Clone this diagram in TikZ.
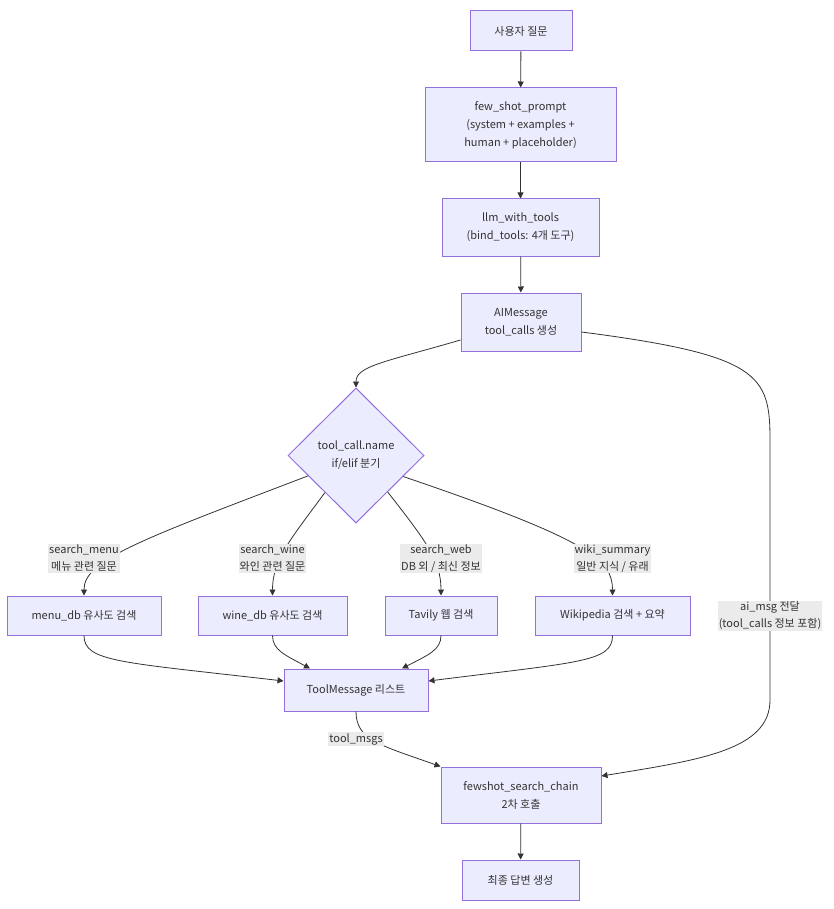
\documentclass[tikz,border=0pt]{standalone}
\usepackage{fontspec}
\setmainfont{Noto Sans CJK KR}
\usetikzlibrary{shapes.geometric,arrows.meta}
\definecolor{nfill}{HTML}{ECECFF}
\definecolor{nline}{HTML}{9370DB}
\definecolor{ink}{HTML}{333333}
\definecolor{lbg}{HTML}{EBEBEB}
\tikzset{
  box/.style={draw=nline, fill=nfill, line width=1pt, text=ink, align=center,
    font=\fontsize{11}{18}\selectfont, inner sep=0pt},
  dia/.style={box, diamond, minimum width=136pt, minimum height=135pt},
  elabel/.style={fill=lbg, text=ink, align=center, inner sep=1pt,
    font=\fontsize{11}{17}\selectfont},
  edge/.style={draw=ink, line width=0.8pt, -{Triangle[length=6pt,width=6pt]}},
}
\begin{document}
\begin{tikzpicture}[x=1pt,y=-1pt]
\useasboundingbox (0,0) rectangle (833,909);
\node[box, minimum width=102pt, minimum height=40pt] (q) at (521,31) {사용자 질문};
\node[box, minimum width=191pt, minimum height=74pt] (fsp) at (520.5,125) {few\_shot\_prompt\\(system + examples +\\human + placeholder)};
\node[box, minimum width=157pt, minimum height=57pt] (llm) at (520.5,227.5) {llm\_with\_tools\\(bind\_tools: 4개 도구)};
\node[box, minimum width=120pt, minimum height=58pt] (ai) at (521,322) {AIMessage\\tool\_calls 생성};
\node[dia] (d) at (356,455.5) {tool\_call.name\\if/elif 분기};
\node[box, minimum width=154pt, minimum height=39pt] (menu) at (84,615.5) {menu\_db 유사도 검색};
\node[box, minimum width=149pt, minimum height=39pt] (wine) at (272.5,615.5) {wine\_db 유사도 검색};
\node[box, minimum width=112pt, minimum height=39pt] (web) at (441,615.5) {Tavily 웹 검색};
\node[box, minimum width=155pt, minimum height=39pt] (wiki) at (612.5,615.5) {Wikipedia 검색 + 요약};
\node[box, minimum width=144pt, minimum height=42pt] (tm) at (356,690) {ToolMessage 리스트};
\node[box, minimum width=160pt, minimum height=56pt] (fs) at (521,795) {fewshot\_search\_chain\\2차 호출};
\node[box, minimum width=117pt, minimum height=40pt] (fin) at (520.5,880) {최종 답변 생성};

% straight chain
\draw[edge] (q) -- (fsp);
\draw[edge] (fsp) -- (llm);
\draw[edge] (llm) -- (ai);
\draw[edge] ([yshift=-18pt]ai.west) .. controls (385,362) and (356,366) .. (d.north);
% branches
\draw[edge] (d.203) .. controls (140,540) and (84,560) .. (menu.north);
\draw[edge] (d.230) .. controls (290,540) and (272.5,560) .. (wine.north);
\draw[edge] (d.311) .. controls (425,540) and (441,560) .. (web.north);
\draw[edge] (d.336) .. controls (590,540) and (612.5,560) .. (wiki.north);
% merge
\draw[edge] (menu.south) .. controls (84,662) and (120,662) .. ([yshift=9pt]tm.west);
\draw[edge] (wine.south) .. controls (272.5,650) and (285,655) .. ([xshift=-46pt]tm.north);
\draw[edge] (web.south) .. controls (441,650) and (428,655) .. ([xshift=46pt]tm.north);
\draw[edge] (wiki.south) .. controls (612.5,662) and (580,662) .. ([yshift=9pt]tm.east);
% to chain
\draw[edge] (tm.south) .. controls (356,740) and (380,745) .. (fs.north west);
\draw[edge] ([yshift=-10pt]ai.east) .. controls (760,355) and (770,375) .. (770,440)
   -- (770,700) .. controls (770,750) and (700,760) .. ([yshift=19pt]fs.east);
\draw[edge] (fs) -- (fin);

% edge labels
\node[elabel] (lmenu) at (84,558.5) {search\_menu\\메뉴 관련 질문};
\node[elabel] (lwine) at (272.5,558.5) {search\_wine\\와인 관련 질문};
\node[elabel] (lweb) at (441,558.5) {search\_web\\DB 외 / 최신 정보};
\node[elabel] (lwiki) at (612.5,558.5) {wiki\_summary\\일반 지식 / 유래};
\node[elabel] (lai) at (770,616) {ai\_msg 전달\\(tool\_calls 정보 포함)};
\node[elabel] (ltm) at (356,739) {tool\_msgs};
\end{tikzpicture}
\end{document}
